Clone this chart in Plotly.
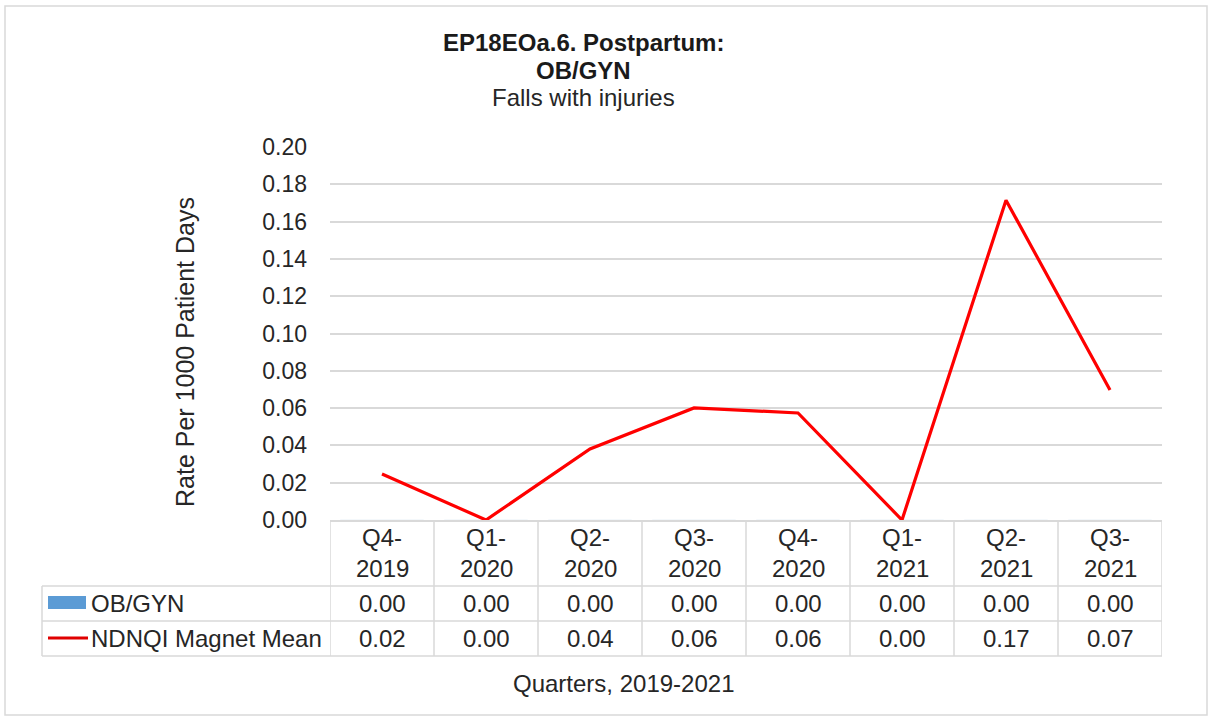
import plotly.graph_objects as go

quarters = ["Q4-2019", "Q1-2020", "Q2-2020", "Q3-2020", "Q4-2020", "Q1-2021", "Q2-2021", "Q3-2021"]
obgyn = [0.00, 0.00, 0.00, 0.00, 0.00, 0.00, 0.00, 0.00]
magnet_mean = [0.0247, 0.0, 0.0381, 0.0601, 0.0574, 0.0, 0.1715, 0.0697]
series_names = ["OB/GYN", "NDNQI Magnet Mean"]
y_ticks = [0.00, 0.02, 0.04, 0.06, 0.08, 0.10, 0.12, 0.14, 0.16, 0.18, 0.20]

FONT = "Liberation Sans, Arial, sans-serif"
TXT = "#262626"
GRID = "#d9d9d9"
FS_TITLE = 24
FS_TICK = 23
FS_TAB = 24
FS_YT = 25

W, H = 1210, 720
L, R, T, B = 330, 48, 147, 200
PW, PH = W - L - R, H - T - B


def px_x(p):
    return (p - L) / PW


def px_y(p):
    return (H - B - p) / PH


fig = go.Figure()
fig.add_trace(go.Bar(x=quarters, y=obgyn, name=series_names[0], marker_color="#5B9BD5"))
fig.add_trace(go.Scatter(x=quarters, y=magnet_mean, name=series_names[1], mode="lines",
                         line=dict(color="#ff0000", width=3.2)))

shapes = []
ann = []

# outer border
shapes.append(dict(type="rect", xref="paper", yref="paper", x0=px_x(5), x1=px_x(1207),
                    y0=px_y(715), y1=px_y(6), line=dict(color=GRID, width=1.5), layer="below"))

# table vertical lines (category boundaries)
for i in range(len(quarters) + 1):
    shapes.append(dict(type="line", xref="x", yref="paper", x0=i - 0.5, x1=i - 0.5,
                       y0=0, y1=px_y(656), line=dict(color=GRID, width=1.5)))
# legend column left border
shapes.append(dict(type="line", xref="paper", yref="paper", x0=px_x(42), x1=px_x(42),
                   y0=px_y(586), y1=px_y(656), line=dict(color=GRID, width=1.5)))
# horizontal row lines
for py in [586, 621, 656]:
    shapes.append(dict(type="line", xref="paper", yref="paper", x0=px_x(42), x1=1,
                       y0=px_y(py), y1=px_y(py), line=dict(color=GRID, width=1.5)))

# legend keys
shapes.append(dict(type="rect", xref="paper", yref="paper", x0=px_x(48), x1=px_x(86),
                   y0=px_y(609), y1=px_y(596), fillcolor="#5B9BD5", line=dict(width=0)))
shapes.append(dict(type="line", xref="paper", yref="paper", x0=px_x(48), x1=px_x(88),
                   y0=px_y(638), y1=px_y(638), line=dict(color="#e00000", width=3.2)))

tab_font = dict(size=FS_TAB, color=TXT, family=FONT)

# header labels
for q in quarters:
    a, b = q.split("-")
    ann.append(dict(x=q, xref="x", y=px_y(537), yref="paper", text=a + "-", showarrow=False,
                    font=tab_font, xanchor="center", yanchor="middle"))
    ann.append(dict(x=q, xref="x", y=px_y(568), yref="paper", text=b, showarrow=False,
                    font=tab_font, xanchor="center", yanchor="middle"))

# row values
for row_y, vals in [(603, obgyn), (638, magnet_mean)]:
    for q, v in zip(quarters, vals):
        ann.append(dict(x=q, xref="x", y=px_y(row_y), yref="paper", text=f"{v:.2f}",
                        showarrow=False, font=tab_font, xanchor="center", yanchor="middle"))

# row legend labels
for row_y, name in [(603, series_names[0]), (638, series_names[1])]:
    ann.append(dict(x=px_x(89), xref="paper", y=px_y(row_y), yref="paper", text=name,
                    showarrow=False, font=tab_font, xanchor="left", yanchor="middle"))

# titles
ann.append(dict(x=px_x(583), xref="paper", y=px_y(42), yref="paper",
                text="<b>EP18EOa.6. Postpartum:</b>", showarrow=False,
                font=dict(size=FS_TITLE, color="#1a1a1a", family=FONT), xanchor="center", yanchor="middle"))
ann.append(dict(x=px_x(583), xref="paper", y=px_y(70), yref="paper",
                text="<b>OB/GYN</b>", showarrow=False,
                font=dict(size=FS_TITLE, color="#1a1a1a", family=FONT), xanchor="center", yanchor="middle"))
ann.append(dict(x=px_x(583), xref="paper", y=px_y(98), yref="paper",
                text="Falls with injuries", showarrow=False,
                font=dict(size=FS_TITLE, color=TXT, family=FONT), xanchor="center", yanchor="middle"))

# axis titles
ann.append(dict(x=px_x(185), xref="paper", y=px_y(352), yref="paper",
                text="Rate Per 1000 Patient Days", textangle=-90, showarrow=False,
                font=dict(size=FS_YT, color=TXT, family=FONT), xanchor="center", yanchor="middle"))
ann.append(dict(x=px_x(623), xref="paper", y=px_y(683), yref="paper",
                text="Quarters, 2019-2021", showarrow=False,
                font=dict(size=FS_TAB, color=TXT, family=FONT), xanchor="center", yanchor="middle"))

fig.update_layout(
    width=W, height=H,
    margin=dict(l=L, r=R, t=T, b=B, pad=0),
    paper_bgcolor="white", plot_bgcolor="white",
    showlegend=False,
    font=dict(family=FONT, size=FS_TAB, color=TXT),
    shapes=shapes, annotations=ann,
    xaxis=dict(type="category", categoryorder="array", categoryarray=quarters,
               range=[-0.5, len(quarters) - 0.5], showticklabels=False, showgrid=False,
               showline=True, linecolor=GRID, linewidth=1.5, zeroline=False, fixedrange=True),
    yaxis=dict(range=[0, 0.2], tickvals=y_ticks, tickformat=".2f", showgrid=True,
               gridcolor=GRID, gridwidth=1.5, zeroline=False, showline=False,
               ticks="", ticklabelstandoff=22, tickfont=dict(size=FS_TICK, color=TXT, family=FONT),
               fixedrange=True),
)

fig.write_html("out.html", config={"displayModeBar": False},
               post_script="document.body.style.margin='0px';document.body.style.overflow='hidden';")
